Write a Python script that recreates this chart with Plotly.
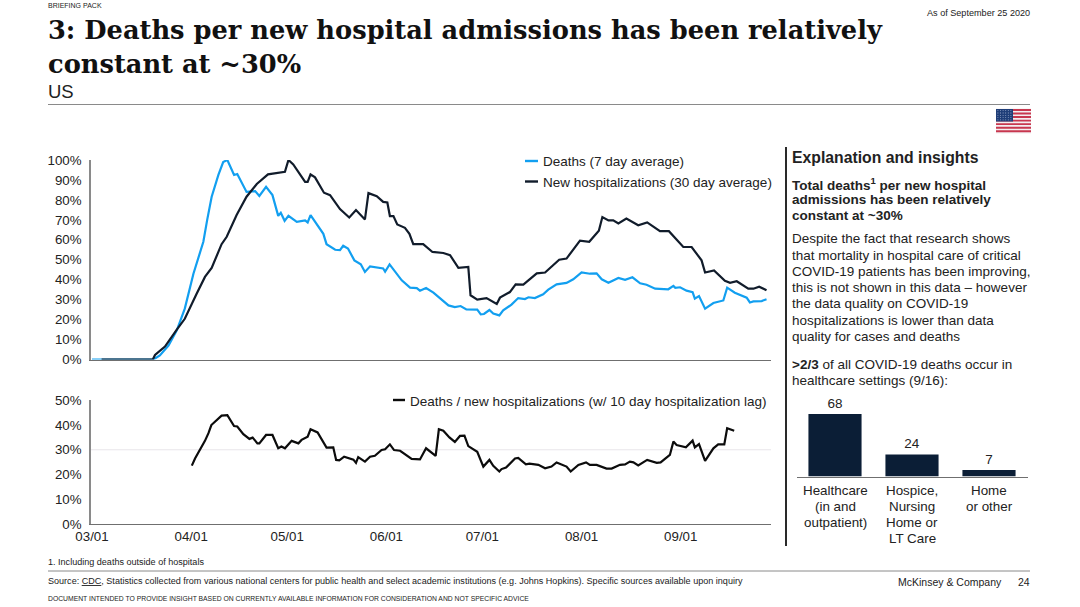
import plotly.graph_objects as go

# ---------- data ----------
deaths_days = [0,19.2,21.2,23.9,26.5,29,31.7,34.8,36,37.4,39.5,41,42.3,44.4,45.4,48.3,51,52.3,54.4,56.4,58.2,59,60.2,61.4,64,66.6,67.4,68.3,72.3,73.3,76,77.5,78.5,80,82,84,85.3,86.9,91,91.6,93,94.7,96.8,99.4,101.5,102.5,104.4,106.7,111.4,113.4,115.2,117,120.4,121.5,122.5,124.2,125.4,127.3,128.5,131.1,133.2,135.3,136.4,138.4,141,142.6,145.2,148.3,150.4,153,155.6,157.7,159.3,161.4,164.5,166.6,168.9,171.3,173.3,176,180.1,181.7,182.3,183.8,185.8,187.7,188.4,189.7,191.6,194.2,197.3,198.5,200.9,204.6,205.6,206.7,209.3,210.8]
deaths_vals = [0,0,2,7,14.6,25.5,43,59,70,81.6,92.5,99,100,92.5,93,84,84.4,82,86.6,82.4,72,73.5,69.5,72,69,69.7,68.7,72.4,63,57.8,55,54.8,57,55.6,49.7,47.7,43.9,46.7,45.6,44,47.7,44,39.7,36,35.8,34.5,35.8,33.5,27.1,26.3,26.8,25.1,25,22.6,22.8,24.8,23,22.1,24.6,27.5,30.8,30.3,31.2,30.8,32.7,35,37.7,38.4,40.2,43.6,43,43.2,40.2,38.5,40.9,39.9,41.2,38.2,37.5,35.5,35.2,36.9,35.9,36.2,34.5,33.8,30.5,31.8,25.5,28.3,29.6,36,33.5,31,28.6,29.1,29.3,30.2]

hosp_days = [3,19,19.7,22.8,26.5,29,32.7,35.3,37.4,40.5,42.1,45.2,48.3,51.5,55,58.2,60.3,61.4,62.9,66.6,67.4,68.3,69.7,72.5,74.4,77.5,80.4,82.5,85.3,86.4,89,91,92.3,93.1,94.2,95.4,97.8,99.2,100.4,103.5,106.4,109.8,111.9,114.5,117.6,118.3,120.4,123.3,126.5,127.5,130.6,132.4,134.8,139,141.6,146,148.3,152.5,155.4,158.4,159.5,161.4,162.9,164.5,167,170.7,173.5,177.5,180.3,184.8,187.4,190.5,191.6,194.4,197.8,199.4,201.5,205.1,206.7,208.5,210.8]
hosp_vals = [0,0,2.3,6.5,15,20.4,33,41.4,45.9,57.8,61.5,72.4,81.6,88,92.8,93.5,94.1,100,97.8,89,89,92.8,91.3,83.6,82.4,75.4,71.2,74.9,70.2,83.4,81.9,79,78.7,71.9,71.9,67.7,66,63,57.8,57.8,53.9,53.4,52.3,45.9,46.4,32.2,30,30.8,27.8,31,33.8,37.7,37.5,43.2,43.6,50,50.6,59.6,59,64.5,71.4,69.7,69.8,68.2,70.7,67.3,68.7,64.3,64.3,56.4,56.4,49.7,43.6,44.6,39.4,38.4,39.2,35.5,35.5,36.5,34.7]

ratio_days = [31.2,32.2,35.3,36.4,37.3,39,40.5,42.3,44.4,45.4,47.3,49.2,50.2,51.7,52.3,54.4,56.4,58.2,59.2,60.3,62.4,64.5,65.5,67.4,68.3,70.5,73.3,75.4,76.3,77.3,78.8,81.7,82.5,83.2,85.3,86.9,88.4,90.5,91.6,93.1,94.4,96.3,98.3,99.9,102.5,104.4,107.4,108.4,109.8,111.7,113.4,115,116.4,117.6,120.4,122.3,124.2,125.4,127.3,128,129.4,130.6,132.2,133.2,135.6,136.7,139.5,141.6,143.6,145.2,148.3,149.6,152,154.4,155.6,157.7,160.8,162.4,165,166.6,168.1,169.2,170.7,173.5,176.5,177.7,180.6,181.7,182.7,185.6,187.7,188.4,189.7,191.6,194.2,195.7,197.6,198.5,200.7]
ratio_vals = [23.6,26.5,33.6,36.7,40,42,43.8,44,39.6,39.4,36.3,34.4,34.9,32.6,32.6,36,36,30.6,31.3,30.6,33.6,32.6,34,35.3,38.3,37,30.9,31,25.9,25.7,27.2,26,24.7,27,25.2,27.2,27.6,29.9,30.2,32.2,29.9,29.6,27.9,26.3,26.1,30.6,27.5,38.3,37.7,35,33.2,35.6,35.7,31.5,29.2,23.2,25.9,23.5,21.2,22.2,22.8,24.5,26.5,26.7,24.1,24.4,23.9,22.5,23.2,24.9,23.2,21.2,23.9,24.9,23.9,23.9,22.4,22.4,23.9,24.1,25.2,24.9,23.7,25.9,24.7,24.9,27.9,33.3,31.9,31,33.7,31,32.3,25.5,30.6,32.2,32.2,38.7,37.7]

month_days = [0,31,61,92,122,153,184]
month_labels = ["03/01","04/01","05/01","06/01","07/01","08/01","09/01"]
top_ticks = [0,10,20,30,40,50,60,70,80,90,100]
top_labels = ["0%","10%","20%","30%","40%","50%","60%","70%","80%","90%","100%"]
bottom_ticks = [0,10,20,30,40,50]
bottom_labels = ["0%","10%","20%","30%","40%","50%"]

setting_cats = ["Healthcare<br>(in and<br>outpatient)","Hospice,<br>Nursing<br>Home or<br>LT Care","Home<br>or other"]
setting_vals = [68,24,7]

# ---------- style ----------
W, H = 1080, 607
FONT = "Liberation Sans"
BLUE = "#129ff0"
DARK = "#111c2b"
NAVY = "#0b1e36"
TXT = "#222222"
AX = "#8a8a8a"
BODY = 13.5

def px(x): return x / W
def py(y): return 1 - y / H

fig = go.Figure()
fig.add_trace(go.Scatter(x=deaths_days, y=deaths_vals, mode="lines", line=dict(color=BLUE, width=2.2),
                         name="Deaths (7 day average)", xaxis="x", yaxis="y", cliponaxis=False, showlegend=False))
fig.add_trace(go.Scatter(x=hosp_days, y=hosp_vals, mode="lines", line=dict(color=DARK, width=2.2),
                         name="New hospitalizations (30 day average)", xaxis="x", yaxis="y", cliponaxis=False, showlegend=False))
fig.add_trace(go.Scatter(x=ratio_days, y=ratio_vals, mode="lines", line=dict(color="#0c0c0c", width=2.2),
                         name="Deaths / new hospitalizations", xaxis="x2", yaxis="y2", cliponaxis=False, showlegend=False))
bar_x = list(range(len(setting_vals)))
fig.add_trace(go.Bar(x=bar_x, y=setting_vals, width=0.69, marker=dict(color=NAVY, line=dict(width=0)),
                     text=[str(v) for v in setting_vals], textposition="outside", cliponaxis=False,
                     textfont=dict(family=FONT, size=BODY, color=TXT), xaxis="x3", yaxis="y3", showlegend=False))

annotations = []
def text(s, x, y, size=BODY, anchor="left", family=FONT, color=TXT, xref="paper"):
    annotations.append(dict(text=s, x=(x if xref != "paper" else px(x)), y=py(y), xref=xref, yref="paper",
                            xanchor=anchor, yanchor="middle", showarrow=False, align=anchor,
                            font=dict(family=family, size=size, color=color),
                            borderpad=0, borderwidth=0))

SERIF = "DejaVu Serif"
text("BRIEFING PACK", 48, 5.5, 7)
text("As of September 25 2020", 1030, 13.5, 9.1, "right")
text("<b>3: Deaths per new hospital admissions has been relatively</b>", 48, 30, 25.7, "left", SERIF, "#111111")
text("<b>constant at ~30%</b>", 48, 64, 25.7, "left", SERIF, "#111111")
text("US", 48, 91.5, 18.5)

text("Deaths (7 day average)", 543, 161.5)
text("New hospitalizations (30 day average)", 543, 182)
text("Deaths / new hospitalizations (w/ 10 day hospitalization lag)", 410, 401)

text("<b>Explanation and insights</b>", 792, 157.5, 15.75)
for i, l in enumerate(["<b>Total deaths</b><sup><b>1</b></sup><b> per new hospital</b>", "<b>admissions has been relatively</b>", "<b>constant at ~30%</b>"]):
    text(l, 792, [183.5, 200, 215.5][i], BODY)
for i, l in enumerate(["Despite the fact that research shows",
                       "that mortality in hospital care of critical",
                       "COVID-19 patients has been improving,",
                       "this is not shown in this data – however",
                       "the data quality on COVID-19",
                       "hospitalizations is lower than data",
                       "quality for cases and deaths"]):
    text(l, 792, 239 + i * 16.2)
text("<b>>2/3</b> of all COVID-19 deaths occur in", 792, 364.5)
text("healthcare settings (9/16):", 792, 380.5)

for i, cat in enumerate(setting_cats):
    for j, l in enumerate(cat.split("<br>")):
        text(l, i, 490.5 + j * 16, 13.4, "center", xref="x3")

text("1. Including deaths outside of hospitals", 48, 562, 9.05)
text("Source: <u>CDC</u>, Statistics collected from various national centers for public health and select academic institutions (e.g. Johns Hopkins). Specific sources available upon inquiry", 48, 581, 9.05)
text("McKinsey & Company", 1002, 581.5, 10.5, "right")
text("24", 1030, 581.5, 10.5, "right")
text("DOCUMENT INTENDED TO PROVIDE INSIGHT BASED ON CURRENTLY AVAILABLE INFORMATION FOR CONSIDERATION AND NOT SPECIFIC ADVICE", 48, 598, 6.8)

shapes = []
def pline(x0, y0, x1, y1, color, width):
    shapes.append(dict(type="line", xref="paper", yref="paper", x0=px(x0), y0=py(y0), x1=px(x1), y1=py(y1),
                       line=dict(color=color, width=width)))
def prect(x0, y0, x1, y1, color):
    shapes.append(dict(type="rect", xref="paper", yref="paper", x0=px(x0), y0=py(y0), x1=px(x1), y1=py(y1),
                       fillcolor=color, line=dict(width=0)))

pline(48, 104.5, 1030, 104.5, "#8a8a8a", 1)
pline(48, 571, 1030, 571, "#8a8a8a", 1)
pline(786, 147, 786, 546, "#2a2a2a", 2)
pline(525, 161, 538, 161, BLUE, 2.4)
pline(525, 181.5, 538, 181.5, DARK, 2.4)
pline(393, 400, 405, 400, "#0c0c0c", 2.4)

# 30% reference line in the lower chart
shapes.append(dict(type="line", xref="x2 domain", yref="y2", x0=0, x1=1, y0=30, y1=30,
                   line=dict(color="#e8e6ea", width=1), layer="below"))

# flag
prect(996, 108.5, 1031, 133.5, "#f4eef0")
for k in range(7):
    top = 109 + k * 3.55
    prect(996, top, 1031, top + 1.9, "#c8374f")
prect(996, 109, 1013, 121.5, "#1f3e78")
for r in range(5):
    for c in range(6):
        prect(997.5 + c * 2.6, 110.3 + r * 2.3, 998.3 + c * 2.6, 111.1 + r * 2.3, "#aebbd6")

base_x = dict(range=[-0.31, 212.2], tickmode="array", tickvals=month_days, ticktext=month_labels, ticks="", showgrid=False,
              zeroline=False, showline=True, linecolor="#6f6f6f", linewidth=1.2,
              domain=[px(91), px(771)], tickfont=dict(family=FONT, size=13.3, color=TXT), tickangle=0)
base_y = dict(ticks="", showgrid=False, zeroline=False, showline=True, linecolor=AX, linewidth=1.6,
              tickmode="array", tickfont=dict(family=FONT, size=13.3, color=TXT), ticklabelstandoff=5)

fig.update_layout(
    width=W, height=H, margin=dict(l=0, r=0, t=0, b=0, pad=0, autoexpand=False),
    paper_bgcolor="white", plot_bgcolor="rgba(0,0,0,0)",
    showlegend=False, annotations=annotations, shapes=shapes,
    xaxis=dict(base_x, anchor="y", showticklabels=False),
    yaxis=dict(base_y, anchor="x", range=[0, 100], tickvals=top_ticks, ticktext=top_labels, domain=[py(359.5), py(160)]),
    xaxis2=dict(base_x, anchor="y2", ticklabelstandoff=0),
    yaxis2=dict(base_y, anchor="x2", range=[0, 50], tickvals=bottom_ticks, ticktext=bottom_labels, domain=[py(524), py(400.3)]),
    xaxis3=dict(domain=[px(796.5), px(1027.5)], range=[-0.5, 2.5], anchor="y3", showticklabels=False, ticks="",
                showgrid=False, zeroline=False, showline=True, linecolor="#6f6f6f", linewidth=1),
    yaxis3=dict(domain=[py(476.5), py(390)], range=[0, 94], anchor="x3", visible=False),
)

fig.write_html("out.html", config=dict(displayModeBar=False), post_script="document.body.style.margin='0';")
